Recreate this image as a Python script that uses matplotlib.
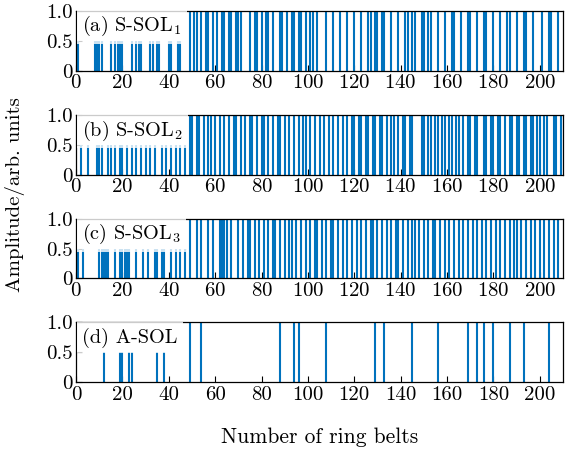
import matplotlib
matplotlib.use('Agg')
import matplotlib.pyplot as plt

plt.rcParams['font.family'] = 'cmr10'
plt.rcParams['mathtext.fontset'] = 'cm'
plt.rcParams['axes.formatter.use_mathtext'] = True

# ---------------- data ----------------
labels = ['(a) S-SOL$_1$', '(b) S-SOL$_2$', '(c) S-SOL$_3$', '(d) A-SOL']

pos_a_half = [1, 8, 9, 10, 11, 15, 17, 18, 19, 20, 24, 26, 27, 28, 32, 33, 35, 36, 40, 41, 44, 45]
pos_a_full = [49, 51, 52, 54, 56, 57, 59, 61, 63, 64, 66, 67, 69, 70, 71, 75, 77, 78, 80, 82, 83, 85,
              88, 89, 91, 93, 94, 96, 97, 99, 101, 102, 104, 108, 111, 114, 117, 120, 123, 126, 127,
              129, 130, 132, 133, 136, 139, 142, 143, 145, 146, 149, 150, 152, 153, 156, 159, 162,
              163, 166, 169, 170, 173, 176, 177, 180, 183, 186, 187, 190, 193, 194, 197, 201, 204,
              205, 208]

pos_b_half = [2, 5, 9, 10, 11, 14, 15, 17, 19, 20, 22, 24, 26, 28, 30, 32, 34, 37, 39, 41, 43, 45, 47]
pos_b_full = [49, 50, 52, 53, 55, 57, 58, 60, 62, 64, 66, 68, 69, 71, 73, 75, 76, 78, 80, 81, 83, 85,
              87, 88, 90, 92, 94, 96, 98, 99, 101, 103, 105, 107, 109, 111, 113, 115, 117, 119, 120,
              122, 123, 125, 126, 128, 129, 131, 132, 134, 136, 137, 139, 141, 142, 144, 145, 149,
              150, 152, 153, 155, 156, 158, 159, 161, 162, 164, 165, 167, 169, 170, 172, 173, 176,
              177, 179, 180, 182, 183, 185, 187, 188, 190, 191, 193, 194, 196, 197, 199, 200, 202,
              203, 206, 207, 209]

pos_c_half = [1, 3, 10, 11, 12, 13, 14, 17, 19, 20, 21, 22, 23, 26, 29, 31, 34, 35, 37, 38, 41, 43,
              45, 47]
pos_c_full = [49, 52, 54, 57, 59, 62, 63, 64, 65, 67, 70, 72, 74, 75, 77, 79, 81, 83, 85, 86, 88, 90,
              92, 93, 95, 97, 99, 101, 103, 104, 106, 108, 110, 111, 113, 115, 117, 119, 121, 123,
              125, 127, 128, 130, 132, 134, 136, 138, 139, 141, 143, 145, 146, 148, 150, 152, 154,
              155, 157, 159, 161, 163, 165, 167, 169, 171, 173, 175, 177, 179, 181, 183, 185, 187,
              189, 190, 192, 194, 196, 198, 200, 202, 204, 206, 208]

pos_d_half = [12, 19, 20, 23, 24, 35, 38]
pos_d_full = [49, 54, 88, 94, 96, 108, 129, 133, 145, 156, 169, 173, 176, 180, 187, 193, 204]

series = [(pos_a_half, pos_a_full), (pos_b_half, pos_b_full),
          (pos_c_half, pos_c_full), (pos_d_half, pos_d_full)]

xticks = [0, 20, 40, 60, 80, 100, 120, 140, 160, 180, 200]
yticks = [0, 0.5, 1.0]
ytick_labels = ['0', '0.5', '1.0']

# ---------------- figure ----------------
W, H = 567, 450
fig = plt.figure(figsize=(W / 100, H / 100), dpi=100)
color = '#0072BD'
fs = 15

panel_px = [(10.7, 71.0), (115.0, 175.0), (219.0, 278.3), (322.3, 382.3)]
left, right = 76, 563

for i, ((top, bot), (half, full), lab) in enumerate(zip(panel_px, series, labels)):
    ax = fig.add_axes([left / W, 1 - bot / H, (right - left) / W, (bot - top) / H])
    ax.vlines(half, 0, 0.5, color=color, lw=1.5)
    ax.vlines(full, 0, 1.0, color=color, lw=1.5)
    ax.set_xlim(0, 210)
    ax.set_ylim(0, 1.0)
    ax.set_xticks(xticks)
    ax.set_yticks(yticks)
    ax.set_yticklabels(ytick_labels)
    if i == 3:
        ax.set_xticklabels([str(t) for t in xticks])
    ax.tick_params(direction='in', length=4, width=0.8, labelsize=fs, pad=2.5,
                   top=False, right=False)
    for s in ax.spines.values():
        s.set_linewidth(0.9)
    ax.text(0.013, 0.74, lab, transform=ax.transAxes, fontsize=14.6, va='center', ha='left',
            bbox=dict(facecolor='white', edgecolor='none', alpha=0.8, pad=4.0))

fig.text(15 / W, 1 - 195 / H, 'Amplitude/arb. units', rotation=90, va='center', ha='center',
         fontsize=15)
fig.text((left + right) / 2 / W, 1 - 437 / H, 'Number of ring belts', ha='center', va='center',
         fontsize=15.5)

fig.savefig('out.png', dpi=100)
